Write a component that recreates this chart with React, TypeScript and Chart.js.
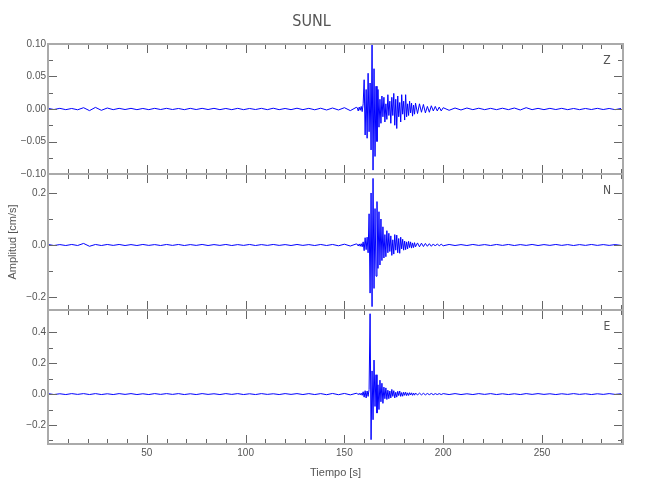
import React, { useEffect, useRef } from "react";
import { Chart, registerables } from "chart.js";

Chart.register(...registerables);

// ---- sample times (s) ----
const range = (start: number, step: number, count: number) =>
  Array.from({ length: count }, (_, i) => +(start + i * step).toFixed(2));
const T_PRE = range(0, 3, 53);
const T_EVT_A = range(156.5, 0.5, 32);
const T_EVT_B = range(172.5, 0.5, 28);
const T_EVT_C = range(187, 1, 14);
const T_POST = range(203, 3, 30);
const TIME = [...T_PRE, ...T_EVT_A, ...T_EVT_B, ...T_EVT_C, ...T_POST];

// ---- Z component (cm/s) ----
const Z_PRE = [
  0.001, -0.0008, 0.001, -0.001, 0.0008, -0.0012,
  0.002, -0.0025, 0.0025, -0.002,
  0.0015, -0.001, 0.001, -0.0008, 0.001, -0.001,
  0.0008, -0.001, 0.001, -0.0008,
  0.001, -0.0008, 0.0008, -0.001, 0.001, -0.0008,
  0.001, -0.0008, 0.001, -0.001, 0.0008, -0.001,
  0.001, -0.001, 0.0008, -0.0008, 0.001, -0.001,
  0.0012, -0.001, 0.0008, -0.001, 0.0012, -0.001,
  0.001, -0.0012, 0.0012, -0.0015, 0.0015, -0.0015,
  0.002, -0.0025, 0.0025,
];
const Z_EVT_A = [
  0.002, -0.003, 0.003, -0.002, 0.004, -0.004, 0.008,
  0.045, -0.04, 0.03, -0.045, 0.055, -0.035, 0.04, -0.063, 0.1, -0.094,
  0.062, -0.073, 0.035, -0.05, 0.03, -0.028, 0.015, -0.022, 0.02, -0.012,
  0.018, -0.02, 0.008, -0.016, 0.022,
];
const Z_EVT_B = [
  -0.01, 0.012, -0.022, 0.018, -0.01, 0.024, -0.025, 0.015, -0.03, 0.02,
  -0.012, 0.01, -0.02, 0.022, -0.008, 0.012, -0.017, 0.022, -0.012, 0.008,
  -0.01, 0.012, -0.006, 0.009, -0.011, 0.006, -0.008, 0.009,
];
const Z_EVT_C = [
  -0.007, 0.008, -0.005, 0.007, -0.006, 0.004, -0.005, 0.005, -0.003, 0.004,
  -0.003, 0.003, -0.003, 0.002,
];
const Z_POST = [
  -0.002, 0.0015, -0.0015, 0.0015, -0.001, 0.0012, -0.001, 0.001, -0.001, 0.0012,
  -0.001, 0.0015, -0.0015, 0.002, -0.001, 0.001, -0.001, 0.001, -0.0008, 0.001,
  -0.001, 0.0008, -0.001, 0.0008, -0.0008, 0.001, -0.0008, 0.0008, -0.001, 0.0008,
];

// ---- N component (cm/s) ----
const N_PRE = [
  0.002, -0.002, 0.0015, -0.002, 0.002, -0.002,
  0.006, -0.005, 0.002, -0.002,
  0.002, -0.0015, 0.002, -0.002, 0.0015, -0.002,
  0.002, -0.0015, 0.0015, -0.002,
  0.002, -0.0015, 0.002, -0.002, 0.0015, -0.0015,
  0.002, -0.002, 0.0015, -0.0015, 0.002, -0.002,
  0.0015, -0.0015, 0.002, -0.002, 0.0015, -0.0015,
  0.002, -0.0015, 0.0015, -0.002, 0.002, -0.0015,
  0.0015, -0.002, 0.002, -0.002, 0.002, -0.003,
  0.003, -0.004, 0.004,
];
const N_EVT_A = [
  0.003, -0.004, 0.004, -0.005, 0.005, -0.007, 0.012,
  -0.022, 0.028, -0.018, 0.03, -0.03, 0.12, -0.185, 0.2, -0.237, 0.256,
  -0.167, 0.14, -0.12, 0.167, -0.09, 0.128, -0.077, 0.1, -0.06, 0.07,
  -0.05, 0.04, -0.045, 0.055, -0.03,
];
const N_EVT_B = [
  0.045, -0.025, 0.035, -0.04, 0.02, -0.035, 0.04, -0.02, 0.038, -0.03,
  0.025, -0.032, 0.03, -0.015, 0.022, -0.02, 0.015, -0.018, 0.012, -0.015,
  0.014, -0.01, 0.012, -0.012, 0.008, -0.01, 0.009, -0.007,
];
const N_EVT_C = [
  0.008, -0.007, 0.007, -0.006, 0.006, -0.005, 0.005, -0.005, 0.004, -0.004,
  0.004, -0.003, 0.003, -0.003,
];
const N_POST = [
  0.002, -0.002, 0.0015, -0.002, 0.002, -0.0015, 0.0015, -0.002, 0.002, -0.0015,
  0.002, -0.002, 0.0015, -0.0015, 0.002, -0.002, 0.0015, -0.0015, 0.002, -0.0015,
  0.0015, -0.002, 0.0015, -0.0015, 0.002, -0.0015, 0.0015, -0.0015, 0.0015, -0.0015,
];

// ---- E component (cm/s) ----
const E_PRE = [
  0.003, -0.003, 0.002, -0.003, 0.003, -0.002,
  0.003, -0.003, 0.003, -0.003,
  0.002, -0.003, 0.003, -0.002, 0.003, -0.003,
  0.002, -0.003, 0.003, -0.002,
  0.003, -0.002, 0.003, -0.003, 0.002, -0.003,
  0.003, -0.002, 0.002, -0.003, 0.003, -0.002,
  0.003, -0.003, 0.002, -0.003, 0.003, -0.002,
  0.002, -0.003, 0.003, -0.002, 0.003, -0.003,
  0.003, -0.003, 0.003, -0.004, 0.004, -0.004,
  0.004, -0.005, 0.005,
];
const E_EVT_A = [
  0.004, -0.004, 0.005, -0.005, 0.006, -0.008, 0.015,
  -0.02, 0.022, -0.025, 0.02, -0.015, 0.03, 0.52, -0.295, 0.15, -0.166,
  0.22, -0.08, 0.125, -0.123, 0.06, -0.1, 0.09, -0.05, 0.07, -0.06,
  0.045, -0.03, 0.04, -0.035, 0.025,
];
const E_EVT_B = [
  -0.03, 0.02, -0.025, 0.03, -0.015, 0.022, -0.025, 0.012, -0.02, 0.018,
  -0.01, 0.02, -0.015, 0.01, -0.014, 0.012, -0.008, 0.012, -0.01, 0.008,
  -0.009, 0.009, -0.006, 0.008, -0.008, 0.006, -0.007, 0.007,
];
const E_EVT_C = [
  -0.006, 0.006, -0.005, 0.005, -0.005, 0.004, -0.004, 0.004, -0.004, 0.003,
  -0.003, 0.003, -0.003, 0.003,
];
const E_POST = [
  -0.003, 0.003, -0.003, 0.002, -0.003, 0.003, -0.002, 0.003, -0.003, 0.002,
  -0.003, 0.002, -0.003, 0.003, -0.002, 0.003, -0.002, 0.002, -0.003, 0.002,
  -0.002, 0.003, -0.002, 0.002, -0.003, 0.002, -0.002, 0.003, -0.002, 0.002,
];

const Z_VALUES = [...Z_PRE, ...Z_EVT_A, ...Z_EVT_B, ...Z_EVT_C, ...Z_POST];
const N_VALUES = [...N_PRE, ...N_EVT_A, ...N_EVT_B, ...N_EVT_C, ...N_POST];
const E_VALUES = [...E_PRE, ...E_EVT_A, ...E_EVT_B, ...E_EVT_C, ...E_POST];

// ---- axes ----
const X_MIN = 0;
const X_MAX = 291;
const X_MAJOR = [50, 100, 150, 200, 250];
const X_MINOR = [10, 20, 30, 40, 60, 70, 80, 90, 110, 120, 130, 140, 160, 170, 180, 190, 210, 220, 230, 240, 260, 270, 280, 290];

const Z_MAJOR = [-0.1, -0.05, 0, 0.05, 0.1];
const Z_MINOR = [-0.075, -0.025, 0.025, 0.075];
const N_MAJOR = [-0.2, 0, 0.2];
const N_MINOR = [-0.1, 0.1];
const E_MAJOR = [-0.2, 0, 0.2, 0.4];
const E_MINOR = [-0.3, -0.1, 0.1, 0.3];

const TEXT = "#555555";
const FRAME = "#aaaaaa";
const TICK = "#666666";
const LINE = "#0000ff";
const SANS = "'Liberation Sans', Arial, sans-serif";
const NARROW = "'Liberation Sans Narrow', 'DejaVu Sans Condensed', sans-serif";

const PANELS = [
  { id: "yZ", label: "Z", values: Z_VALUES, min: -0.1, max: 0.1, major: Z_MAJOR, minor: Z_MINOR, decimals: 2, weight: 130 },
  { id: "yN", label: "N", values: N_VALUES, min: -0.25, max: 0.273, major: N_MAJOR, minor: N_MINOR, decimals: 1, weight: 136 },
  { id: "yE", label: "E", values: E_VALUES, min: -0.323, max: 0.544, major: E_MAJOR, minor: E_MINOR, decimals: 1, weight: 134 },
];

const fmt = (v: number, d: number) => (v < 0 ? "\u2212" : "") + Math.abs(v).toFixed(d);

const framePlugin = {
  id: "panelFrames",
  afterDatasetsDraw(chart: any) {
    const ctx = chart.ctx;
    const x = chart.scales.x;
    PANELS.forEach((p) => {
      const y = chart.scales[p.id];
      ctx.save();
      ctx.strokeStyle = TICK;
      ctx.lineWidth = 1;
      ctx.beginPath();
      const tickX = (v: number, len: number) => {
        const px = Math.round(x.getPixelForValue(v)) + 0.5;
        ctx.moveTo(px, y.top);
        ctx.lineTo(px, y.top + len);
        ctx.moveTo(px, y.bottom);
        ctx.lineTo(px, y.bottom - len);
      };
      X_MAJOR.forEach((v) => tickX(v, 9));
      X_MINOR.forEach((v) => tickX(v, 5));
      const tickY = (v: number, len: number) => {
        const py = Math.round(y.getPixelForValue(v)) + 0.5;
        ctx.moveTo(x.left, py);
        ctx.lineTo(x.left + len, py);
        ctx.moveTo(x.right, py);
        ctx.lineTo(x.right - len, py);
      };
      p.major.forEach((v) => tickY(v, 9));
      p.minor.forEach((v) => tickY(v, 5));
      ctx.stroke();
      ctx.strokeStyle = FRAME;
      ctx.lineWidth = 2;
      ctx.strokeRect(x.left, y.top, x.right - x.left, y.bottom - y.top);
      ctx.fillStyle = TEXT;
      ctx.font = `12px ${NARROW}`;
      ctx.textAlign = "center";
      ctx.textBaseline = "middle";
      ctx.fillText(p.label, x.right - 16, y.top + 17);
      ctx.restore();
    });
  },
};

export default function App() {
  const ref = useRef<HTMLCanvasElement | null>(null);
  useEffect(() => {
    if (!ref.current) return;
    const yScales: any = {};
    // defined bottom-first so that Z ends up on top of the stack
    [...PANELS].reverse().forEach((p) => {
      yScales[p.id] = {
        type: "linear",
        position: "left",
        stack: "panels",
        stackWeight: p.weight,
        min: p.min,
        max: p.max,
        grid: { display: false, drawTicks: false },
        border: { display: false },
        afterBuildTicks: (axis: any) => {
          axis.ticks = p.major.map((v) => ({ value: v }));
        },
        afterFit: (axis: any) => {
          axis.width = 48;
        },
        ticks: {
          autoSkip: false,
          padding: 2,
          color: TEXT,
          font: { family: SANS, size: 10 },
          callback: (v: any) => fmt(Number(v), p.decimals),
        },
        title:
          p.id === "yN"
            ? {
                display: true,
                text: "Amplitud [cm/s]",
                color: TEXT,
                font: { family: SANS, size: 11 },
                padding: { top: 6, bottom: 0 },
              }
            : { display: false },
      };
    });
    const chart = new Chart(ref.current, {
      type: "line",
      data: {
        datasets: PANELS.map((p) => ({
          label: p.label,
          yAxisID: p.id,
          xAxisID: "x",
          data: TIME.map((t, i) => ({ x: t, y: p.values[i] })),
          borderColor: LINE,
          borderWidth: 1,
          pointRadius: 0,
          fill: false,
          tension: 0,
        })),
      },
      options: {
        responsive: false,
        animation: false,
        layout: { padding: { top: 0, right: 27, bottom: 0, left: 0 } },
        plugins: {
          legend: { display: false },
          tooltip: { enabled: false },
          title: {
            display: true,
            text: "SUNL",
            color: TEXT,
            font: { family: NARROW, size: 16, weight: "normal" },
            padding: { top: 12, bottom: 12.8 },
          },
        },
        scales: {
          x: {
            type: "linear",
            position: "bottom",
            min: X_MIN,
            max: X_MAX,
            grid: { display: false, drawTicks: false },
            border: { display: false },
            afterBuildTicks: (axis: any) => {
              axis.ticks = X_MAJOR.map((v) => ({ value: v }));
            },
            afterFit: (axis: any) => {
              axis.height = 56;
            },
            ticks: {
              autoSkip: false,
              maxRotation: 0,
              padding: 3,
              color: TEXT,
              font: { family: SANS, size: 10 },
            },
            title: {
              display: true,
              text: "Tiempo [s]",
              color: TEXT,
              font: { family: SANS, size: 11 },
              padding: { top: 0, bottom: 20.5 },
            },
          },
          ...yScales,
        },
      },
      plugins: [framePlugin],
    } as any);
    return () => chart.destroy();
  }, []);
  return (
    <div style={{ position: "absolute", left: 0, top: 0, width: 650, height: 500, background: "#fff" }}>
      <canvas ref={ref} width={650} height={500} style={{ display: "block" }} />
    </div>
  );
}
